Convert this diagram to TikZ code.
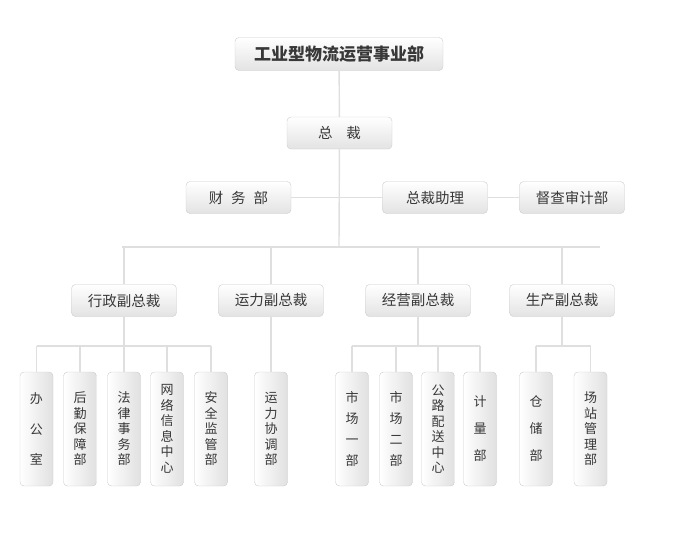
\documentclass[tikz,border=0pt]{standalone}
\usepackage{fontspec}
\setmainfont{Noto Sans CJK SC}
\begin{document}
\begin{tikzpicture}[x=1pt,y=-1pt,
  hbox/.style={draw=gray!40, rounded corners=4pt, top color=white, bottom color=gray!22,
    minimum width=105pt, minimum height=32pt, inner sep=0pt, text=black!78,
    font=\fontsize{14.5}{16}\selectfont},
  vbox/.style={draw=gray!40, rounded corners=4pt, left color=white, right color=gray!24,
    minimum width=33pt, minimum height=114pt, inner sep=0pt, align=center, text=black!78,
    font=\fontsize{13}{15.5}\selectfont},
  link/.style={draw=gray!25, line width=1.4pt}]
\useasboundingbox (0,0) rectangle (678,550);
% top levels
\node[hbox, minimum width=208pt, minimum height=33pt, font=\fontsize{17}{20}\selectfont\bfseries] (top) at (339,54) {工业型物流运营事业部};
\node[hbox] (zc) at (339.5,133) {总\hspace{14pt}裁};
\node[hbox] (cw) at (238.5,197.5) {财\hspace{8pt}务\hspace{8pt}部};
\node[hbox] (zl) at (435,197.5) {总裁助理};
\node[hbox] (dc) at (572,197.5) {督查审计部};
% vice presidents
\node[hbox] (xz) at (124,300.5) {行政副总裁};
\node[hbox] (yl) at (271,300.5) {运力副总裁};
\node[hbox] (jy) at (418,300.5) {经营副总裁};
\node[hbox] (sc) at (562,300.5) {生产副总裁};
% departments
\node[vbox] (a1) at (36.5,429) {办\\[15pt]公\\[15pt]室};
\node[vbox] (a2) at (80,429) {后\\勤\\保\\障\\部};
\node[vbox] (a3) at (124,429) {法\\律\\事\\务\\部};
\node[vbox] (a4) at (167,429) {网\\络\\信\\息\\中\\心};
\node[vbox] (a5) at (211,429) {安\\全\\监\\管\\部};
\node[vbox] (b1) at (271,429) {运\\力\\协\\调\\部};
\node[vbox] (c1) at (352,429) {市\\[5.5pt]场\\[5.5pt]一\\[5.5pt]部};
\node[vbox] (c2) at (396,429) {市\\[5.5pt]场\\[5.5pt]二\\[5.5pt]部};
\node[vbox] (c3) at (438,429) {公\\路\\配\\送\\中\\心};
\node[vbox] (c4) at (480,429) {计\\[11.5pt]量\\[11.5pt]部};
\node[vbox] (d1) at (536,429) {仓\\[11.5pt]储\\[11.5pt]部};
\node[vbox] (d2) at (590.5,429) {场\\站\\管\\理\\部};
% connectors
\coordinate (bus) at (339,247);
\coordinate (bl) at (122,247);
\coordinate (br) at (600,247);
\draw[link] (top) -- (zc);
\draw[link] (zc) -- (bus);
\draw[link] (cw.east) -- (zl.west);
\draw[link] (zl.east) -- (dc.west);
\draw[link] (bl) -- (br);
\foreach \n in {xz,yl,jy,sc} \draw[link] (\n.north) -- (\n.north |- bus);
% group A
\coordinate (ja) at (124,346);
\draw[link] (xz.south) -- (ja);
\draw[link] (a1.north |- ja) -- (a5.north |- ja);
\foreach \n in {a1,a2,a3,a4,a5} \draw[link] (\n.north) -- (\n.north |- ja);
% group B
\draw[link] (yl.south) -- (b1.north);
% group C
\coordinate (jc) at (418,346);
\draw[link] (jy.south) -- (jc);
\draw[link] (c1.north |- jc) -- (c4.north |- jc);
\foreach \n in {c1,c2,c3,c4} \draw[link] (\n.north) -- (\n.north |- jc);
% group D
\coordinate (jd) at (562,346);
\draw[link] (sc.south) -- (jd);
\draw[link] (d1.north |- jd) -- (d2.north |- jd);
\foreach \n in {d1,d2} \draw[link] (\n.north) -- (\n.north |- jd);
\end{tikzpicture}
\end{document}
